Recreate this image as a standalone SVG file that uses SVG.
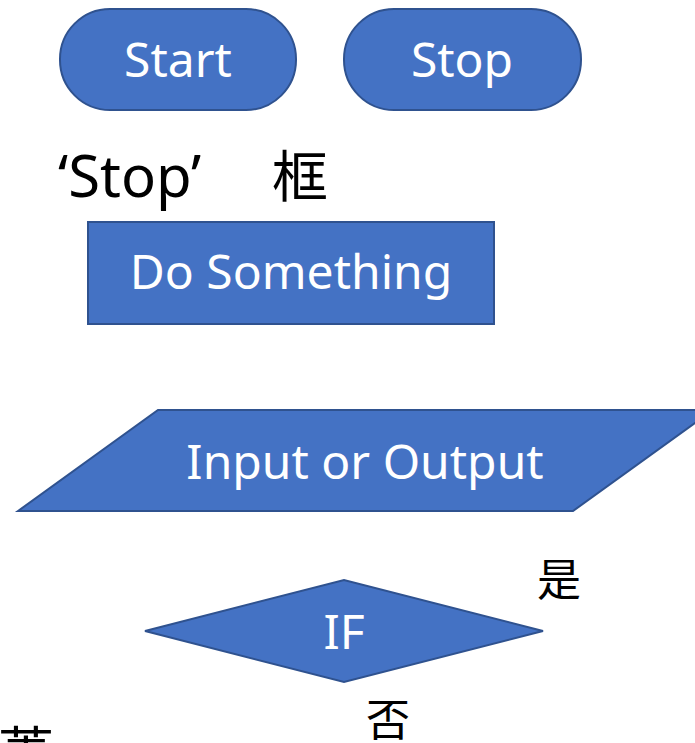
<svg xmlns="http://www.w3.org/2000/svg" width="695" height="743" viewBox="0 0 695 743">
<style>
.shape{fill:#4472C4;stroke:#2F528F;stroke-width:2}
.lbl{fill:#FFFFFF;font-family:"Noto Sans","Open Sans",sans-serif;font-size:48px;text-anchor:middle}
.blk{fill:#000000;font-family:"Noto Sans","Noto Sans CJK SC",sans-serif}
.cjk{fill:#000000;font-family:"Noto Sans CJK SC",sans-serif}
</style>
<rect width="695" height="743" fill="#FFFFFF"/>
<g id="connectors"></g>
<g id="start">
<rect class="shape" x="60" y="9" width="236" height="101" rx="50" ry="50"/>
<text class="lbl" x="178" y="77">Start</text>
</g>
<g id="stop">
<rect class="shape" x="344" y="9" width="237" height="101" rx="50" ry="50"/>
<text class="lbl" x="462" y="77">Stop</text>
</g>
<g id="stop-label">
<text class="blk" x="58" y="197" font-size="58">‘Stop’</text>
<text class="cjk" x="272" y="197" font-size="56">框</text>
</g>
<g id="process">
<rect class="shape" x="88" y="222" width="406" height="102"/>
<text class="lbl" x="291" y="289">Do Something</text>
</g>
<g id="io">
<polygon class="shape" points="18,511 158,410 713,410 573,511"/>
<text class="lbl" x="365" y="479">Input or Output</text>
</g>
<g id="decision">
<polygon class="shape" points="145,631 344,580 543,631 344,682"/>
<text class="lbl" x="344" y="649">IF</text>
</g>
<g id="labels">
<text class="cjk" x="537" y="596" font-size="44">是</text>
<text class="cjk" x="366" y="736" font-size="44">否</text>
<text class="cjk" x="-2" y="773" font-size="56">菱</text>
</g>
</svg>
